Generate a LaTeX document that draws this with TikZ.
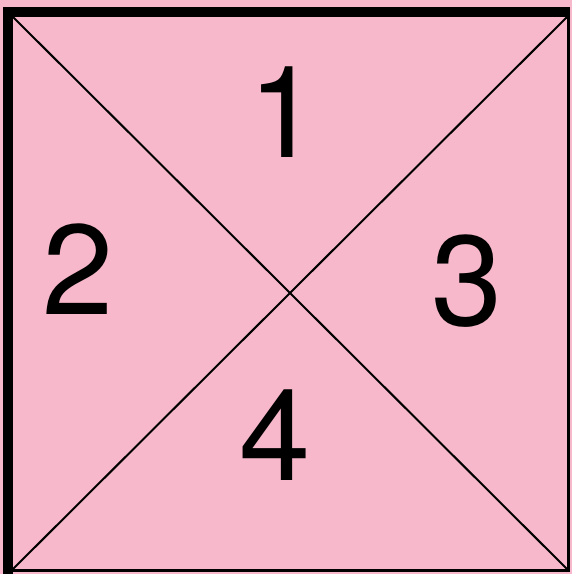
\documentclass[tikz,border=0pt]{standalone}
\usepackage{fontspec}
\setmainfont{TeX Gyre Heros}
\definecolor{quadpink}{RGB}{247,184,203}
\tikzset{
  quadlabel/.style={anchor=base,inner sep=0pt,font=\fontsize{128}{128}\selectfont},
  heavyedge/.style={line width=10pt},
  lightedge/.style={line width=3pt},
}
\begin{document}
\begin{tikzpicture}[x=1pt,y=-1pt]
    % Background
    \fill[quadpink] (0,0) rectangle (572,574);
    \useasboundingbox (0,0) rectangle (572,574);
    % Corners of the square
    \coordinate (tl) at (13,17);
    \coordinate (tr) at (567,17);
    \coordinate (bl) at (13,569);
    \coordinate (br) at (567,569);
    % Diagonals
    \draw[line width=2pt] (tl) -- (br);
    \draw[line width=2pt] (tr) -- (bl);
    % Frame: heavy on left and top, light on right and bottom
    \draw[lightedge] (566,17) -- (568.5,17) -- (568.5,570) -- (13,570);
    \draw[heavyedge] (8,574) -- (8,12) -- (570,12);
    % Region labels
    \node[quadlabel] (one) at (284,157) {1};
    \node[quadlabel] (two) at (78,314) {2};
    \node[quadlabel] (three) at (467,325) {3};
    \node[quadlabel] (four) at (275,480) {4};
\end{tikzpicture}
\end{document}
